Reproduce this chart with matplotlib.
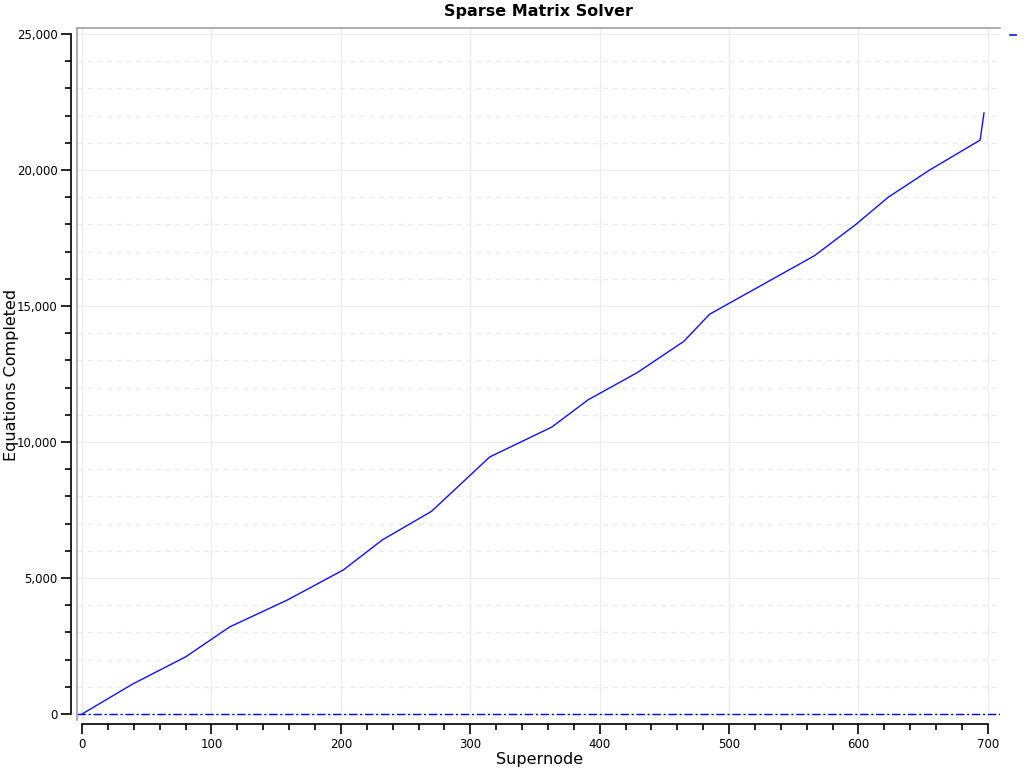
import matplotlib
matplotlib.use("Agg")
import matplotlib.pyplot as plt
from matplotlib.ticker import MultipleLocator, FuncFormatter
from matplotlib.lines import Line2D

supernode = [0, 39, 80, 114, 159, 202, 232, 270, 315, 363, 391, 429, 465, 485, 566, 598, 623, 655, 694, 697]
equations = [0, 1100, 2100, 3200, 4200, 5300, 6400, 7450, 9450, 10550, 11550, 12550, 13700, 14700,
             16850, 18000, 19000, 20000, 21100, 22100]

title = "Sparse Matrix Solver"
xlabel = "Supernode"
ylabel = "Equations Completed"

fig = plt.figure(figsize=(10.24, 7.68), dpi=100)
ax = fig.add_axes([0.0752, 0.0625, 0.9014, 0.901])

line, = ax.plot(supernode, equations, color="#1010ff", lw=1.0, zorder=3)
ax.axhline(0, color="#0000ee", lw=1.0, ls=(0, (6, 2, 1.5, 2)), zorder=2)

ax.set_xlim(-3.9, 709.4)
ax.set_ylim(-220, 25220)

ax.xaxis.set_major_locator(MultipleLocator(100))
ax.xaxis.set_minor_locator(MultipleLocator(20))
ax.yaxis.set_major_locator(MultipleLocator(5000))
ax.yaxis.set_minor_locator(MultipleLocator(1000))
ax.yaxis.set_major_formatter(FuncFormatter(lambda v, p: f"{int(v):,}"))

ax.grid(which="major", axis="x", color="#ececec", lw=1.0, ls="-")
ax.grid(which="major", axis="y", color="#ececec", lw=1.0, ls="-")
ax.grid(which="minor", axis="y", color="#ececec", lw=1.0, ls=(0, (4, 3)))
ax.set_axisbelow(True)

ax.spines["right"].set_visible(False)
ax.spines["top"].set_color("#a0a0a0")
ax.spines["top"].set_linewidth(1.2)
ax.spines["left"].set_position(("outward", 4))
ax.spines["bottom"].set_position(("outward", 3))
ax.spines["left"].set_bounds(0, 25000)
ax.spines["bottom"].set_bounds(0, 700)
ax.spines["left"].set_linewidth(1.2)
ax.spines["bottom"].set_linewidth(1.2)
ax.add_line(Line2D([0, 0], [0, 1], transform=ax.transAxes, color="#a0a0a0", lw=1.2, clip_on=False))

ax.tick_params(which="major", length=7, width=1.2, labelsize=8.5, colors="black", pad=3)
ax.tick_params(which="minor", length=4, width=1.2)

ax.set_title(title, fontsize=11.5, fontweight="bold", pad=9)
ax.set_xlabel(xlabel, fontsize=11.5)
ax.set_ylabel(ylabel, fontsize=11.5)
ax.xaxis.label.set_va("center")
ax.yaxis.label.set_va("center")
ax.xaxis.set_label_coords(0.5016, -0.0564)
ax.yaxis.set_label_coords(-0.0715, 0.4986)

ax.legend(handles=[Line2D([], [], color="#1010ff", lw=1.2)], labels=[""], loc="upper left",
          bbox_to_anchor=(1.0, 1.013), frameon=False, handlelength=0.45, borderaxespad=0.3)

fig.savefig("out.png", dpi=100)
